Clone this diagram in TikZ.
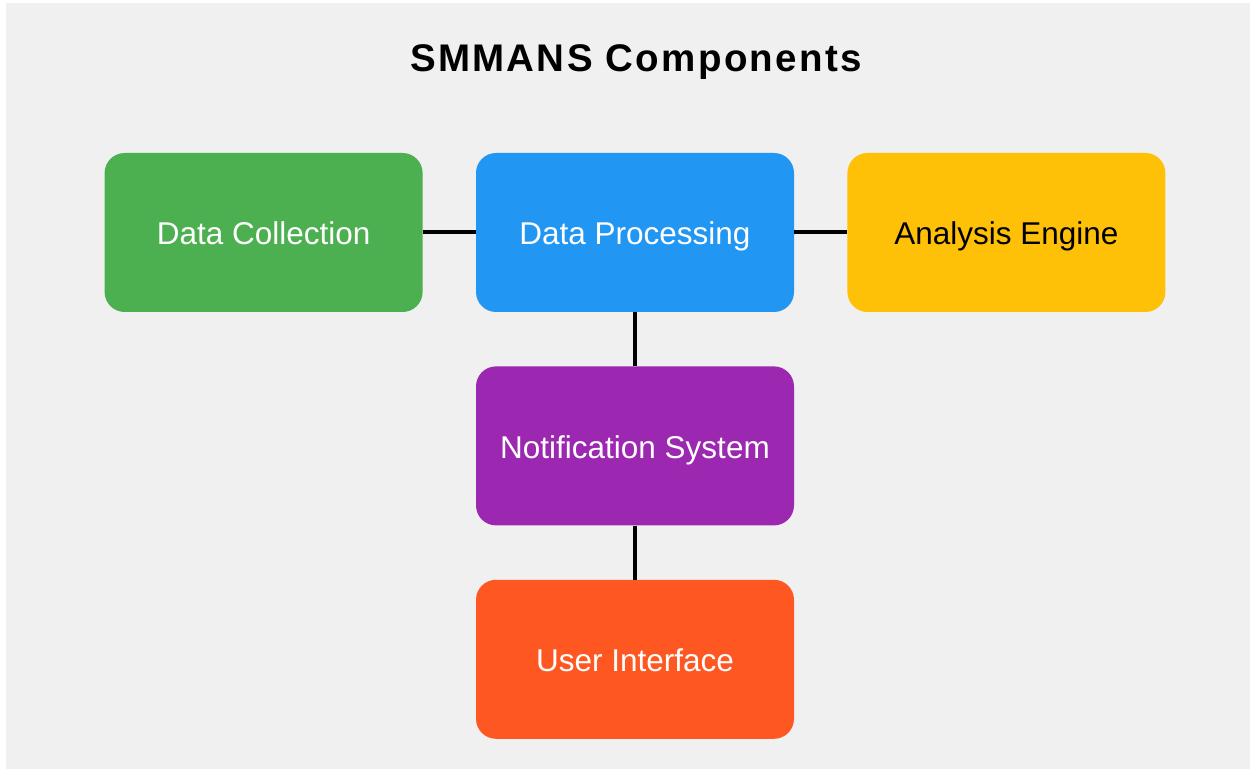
\documentclass[tikz,border=0pt]{standalone}
\usepackage{fontspec}
\setmainfont{Liberation Sans}
\usepackage{xcolor}
\usetikzlibrary{positioning}

\definecolor{bggray}{HTML}{F0F0F0}
\definecolor{dcgreen}{HTML}{4CAF50}
\definecolor{dpblue}{HTML}{2196F3}
\definecolor{aeamber}{HTML}{FFC107}
\definecolor{nspurple}{HTML}{9C27B0}
\definecolor{uiorange}{HTML}{FF5722}

\begin{document}
\begin{tikzpicture}[
    x=1pt, y=1pt,
    node distance=54pt and 53pt,
    comp/.style={rectangle, rounded corners=20pt, minimum width=318pt, minimum height=159pt,
        inner sep=0pt, align=center, text=white, text height=25pt, text depth=0pt,
        font=\fontsize{31.5}{36}\selectfont},
    link/.style={line width=4pt, black}
]
    % Background
    \useasboundingbox (0,0) rectangle (1252,771);
    \fill[white] (0,0) rectangle (1252,771);
    \fill[bggray] (6,2) rectangle (1250,768);

    \node[font=\bfseries\fontsize{38.5}{44}\selectfont\addfontfeature{LetterSpace=6}, text height=27.5pt,
        text depth=0pt, inner sep=0pt] (title) at (636,713) {SMMANS Components};

    % Components
    \node[comp, fill=dpblue] (dp) at (635,538.5) {Data Processing};
    \node[comp, fill=dcgreen, left=of dp] (dc) {Data Collection};
    \node[comp, fill=aeamber, text=black, right=of dp] (ae) {Analysis Engine};
    \node[comp, fill=nspurple, below=of dp] (ns) {Notification System};
    \node[comp, fill=uiorange, below=of ns] (ui) {User Interface};

    % Links
    \draw[link] (dc) -- (dp);
    \draw[link] (dp) -- (ae);
    \draw[link] (dp) -- (ns);
    \draw[link] (ns) -- (ui);
\end{tikzpicture}
\end{document}
